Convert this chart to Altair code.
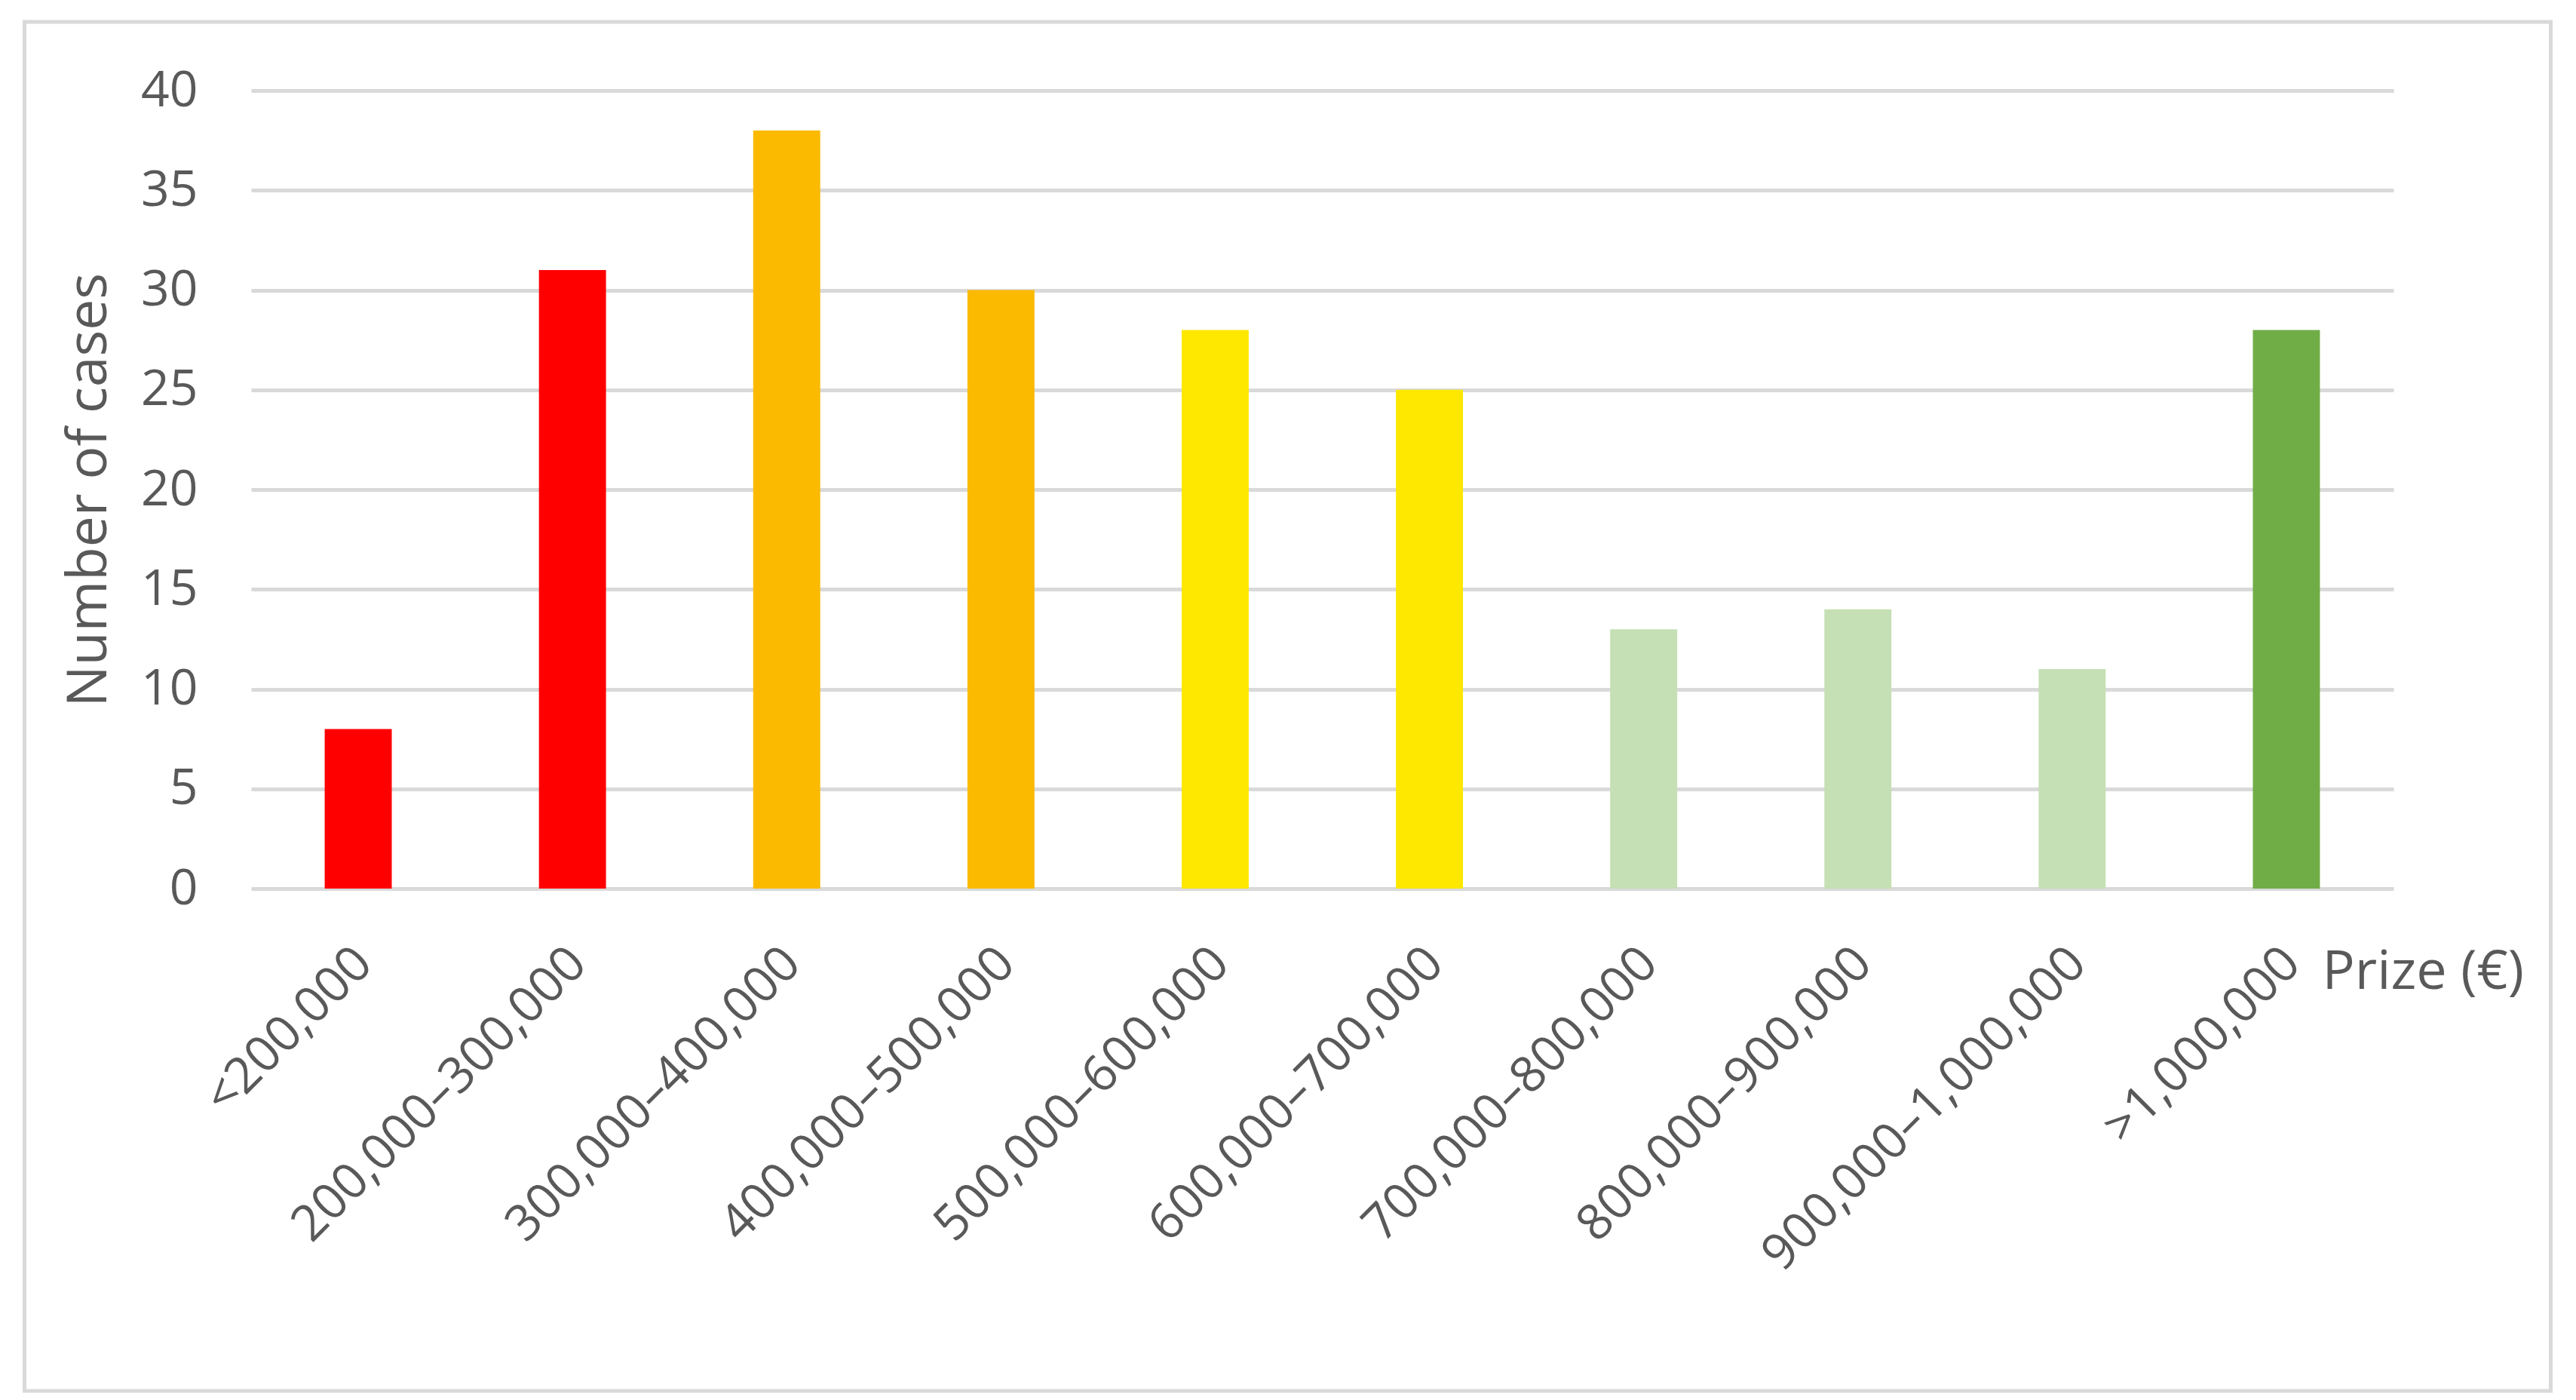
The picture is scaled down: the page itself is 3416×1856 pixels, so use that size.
import altair as alt
import pandas as pd

categories = ["<200,000", "200,000–300,000", "300,000–400,000", "400,000–500,000",
              "500,000–600,000", "600,000–700,000", "700,000–800,000",
              "800,000–900,000", "900,000–1,000,000", ">1,000,000"]
cases = [8, 31, 38, 30, 28, 25, 13, 14, 11, 28]
bar_colors = ["#FF0000", "#FF0000", "#FBBA00", "#FBBA00", "#FFE800", "#FFE800",
              "#C5E0B4", "#C5E0B4", "#C5E0B4", "#70AD47"]
y_ticks = [0, 5, 10, 15, 20, 25, 30, 35, 40]

df = pd.DataFrame({"Prize": categories, "Cases": cases, "Color": bar_colors})

W, H = 2841, 1058
FONT = "Open Sans"
TXT = "#595959"
GRID = "#D9D9D9"

border = alt.Chart(pd.DataFrame({"k": [0]})).mark_rect(
    filled=False, stroke=GRID, strokeWidth=5
).encode(
    x=alt.value(-300.5), x2=alt.value(3049.5),
    y=alt.value(-91), y2=alt.value(1724)
)

bars = alt.Chart(df).mark_bar().encode(
    x=alt.X("Prize:N", sort=categories,
            scale=alt.Scale(paddingInner=0.687, paddingOuter=0.3435),
            axis=alt.Axis(
                title="Prize (€)", labelAngle=-45, labelFont=FONT, labelFontSize=66,
                labelColor=TXT, ticks=False, tickSize=0, domain=False, grid=False,
                labelPadding=66, labelOffset=-15, labelLimit=2000, labelOverlap=False,
                labelAlign="right", labelBaseline="top",
                titleFont=FONT, titleFontSize=72, titleFontWeight="normal",
                titleColor=TXT, titleX=2746, titleY=132, titleAlign="left",
                titleBaseline="alphabetic")),
    y=alt.Y("Cases:Q", scale=alt.Scale(domain=[0, 40], nice=False),
            axis=alt.Axis(
                values=y_ticks, title="Number of cases", labelFont=FONT,
                labelFontSize=66, labelColor=TXT, ticks=False, tickSize=0,
                domain=False, grid=True, gridColor=GRID, gridWidth=5,
                labelPadding=71,
                titleFont=FONT, titleFontSize=73, titleFontWeight="normal",
                titleColor=TXT, titleX=-193, titleY=529, titleAngle=270,
                titleAlign="center", titleBaseline="alphabetic")),
    color=alt.Color("Color:N", scale=None),
)

chart = alt.layer(border, bars).properties(
    width=W, height=H,
    autosize=alt.AutoSizeParams(type="none"),
    padding={"left": 325, "top": 112, "right": 220, "bottom": 670},
    background="white",
).configure_view(strokeWidth=0)

chart.save("out.html", embed_options={"renderer": "svg", "actions": False})
